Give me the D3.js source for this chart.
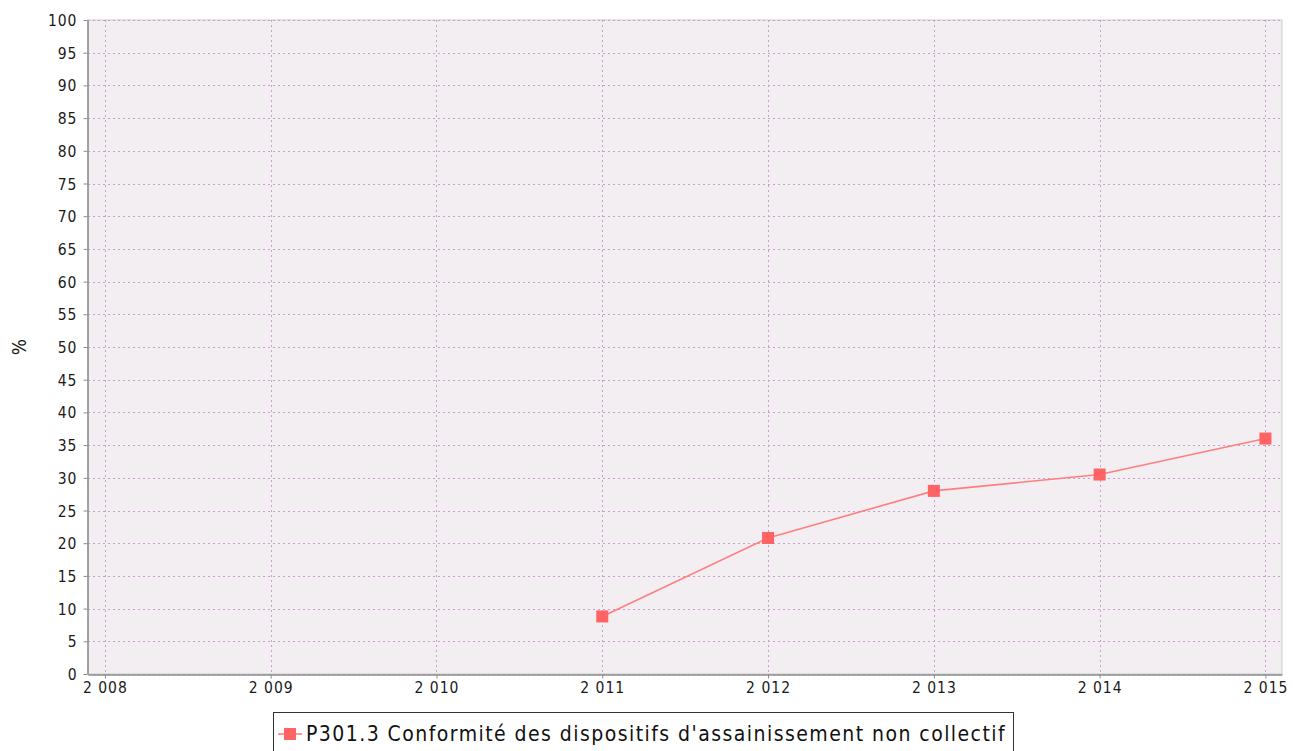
<!DOCTYPE html>
<html><head><meta charset="utf-8">
<script src="https://cdn.jsdelivr.net/npm/d3@7"></script>
<style>body{margin:0;background:#fff;} svg{display:block;}</style>
</head><body>
<script>
const years = [2011, 2012, 2013, 2014, 2015];
const values = [8.8, 20.8, 28.0, 30.5, 36.0];
const xTicks = [2008, 2009, 2010, 2011, 2012, 2013, 2014, 2015];
const yTicks = d3.range(0, 101, 5);
const seriesName = "P301.3 Conformité des dispositifs d'assainissement non collectif";
const yLabel = "%";

const W = 1293, H = 751;
const L = 88, R = 1282, T = 20, B = 674;
const svg = d3.select("body").append("svg").attr("width", W).attr("height", H);

const x = d3.scaleLinear().domain([2007.898, 2015.1]).range([L, R]);
const y = d3.scaleLinear().domain([0, 100]).range([B, T]);
const FONT = "DejaVu Sans Condensed, DejaVu Sans, sans-serif";

svg.append("rect").attr("x", L).attr("y", T).attr("width", R - L).attr("height", B - T)
  .attr("fill", "#f2eef2").attr("stroke", "#cccccc").attr("stroke-width", 1);

const grid = svg.append("g").attr("stroke", "#c9a0cd").attr("stroke-width", 1).attr("stroke-dasharray", "2,3");
yTicks.forEach(t => grid.append("line").attr("x1", L).attr("x2", R).attr("y1", Math.round(y(t)) + 0.5).attr("y2", Math.round(y(t)) + 0.5));
xTicks.forEach(t => grid.append("line").attr("y1", T).attr("y2", B).attr("x1", Math.round(x(t)) + 0.5).attr("x2", Math.round(x(t)) + 0.5));

const fmt = d => { const s = String(d); return s.length === 4 ? s[0] + " " + s.slice(1) : s; };

const yAxis = svg.append("g").attr("transform", `translate(${L - 0.5},0)`)
  .call(d3.axisLeft(y).tickValues(yTicks).tickSize(4).tickSizeOuter(0).tickPadding(6).tickFormat(fmt));
const xAxis = svg.append("g").attr("transform", `translate(0,${B + 0.5})`)
  .call(d3.axisBottom(x).tickValues(xTicks).tickSize(4).tickSizeOuter(0).tickPadding(3).tickFormat(fmt));
[yAxis, xAxis].forEach(a => {
  a.select(".domain").attr("stroke", "#8c8c8c").attr("stroke-width", 1.5);
  a.selectAll(".tick line").attr("stroke", "#8c8c8c");
  a.selectAll("text").attr("fill", "#1a1a1a").attr("font-family", FONT).attr("font-size", 15.5).attr("letter-spacing", 1);
});
yAxis.selectAll("text").attr("dy", "0.36em");

svg.append("text").attr("transform", `translate(26,347) rotate(-90)`).attr("text-anchor", "middle")
  .attr("font-family", FONT).attr("font-size", 19).attr("fill", "#1a1a1a").text(yLabel);

const pts = years.map((d, i) => [d, values[i]]);
svg.append("path").datum(pts)
  .attr("d", d3.line().x(d => x(d[0])).y(d => y(d[1])))
  .attr("fill", "none").attr("stroke", "#ff7f7f").attr("stroke-width", 1.6);
svg.selectAll("rect.pt").data(pts).enter().append("rect").attr("class", "pt")
  .attr("x", d => x(d[0]) - 6).attr("y", d => y(d[1]) - 6).attr("width", 12).attr("height", 12)
  .attr("fill", "#ff6363");

const lg = svg.append("g");
lg.append("rect").attr("x", 273.5).attr("y", 712.5).attr("width", 740).attr("height", 50)
  .attr("fill", "#fff").attr("stroke", "#333").attr("stroke-width", 1);
lg.append("line").attr("x1", 278).attr("x2", 302).attr("y1", 734).attr("y2", 734).attr("stroke", "#ff7f7f").attr("stroke-width", 1.6);
lg.append("rect").attr("x", 284).attr("y", 728).attr("width", 12).attr("height", 12).attr("fill", "#ff6363");
lg.append("text").attr("x", 306).attr("y", 741).attr("font-family", FONT)
  .attr("font-size", 21).attr("letter-spacing", 1.45).attr("fill", "#111").text(seriesName);
</script>
</body></html>
